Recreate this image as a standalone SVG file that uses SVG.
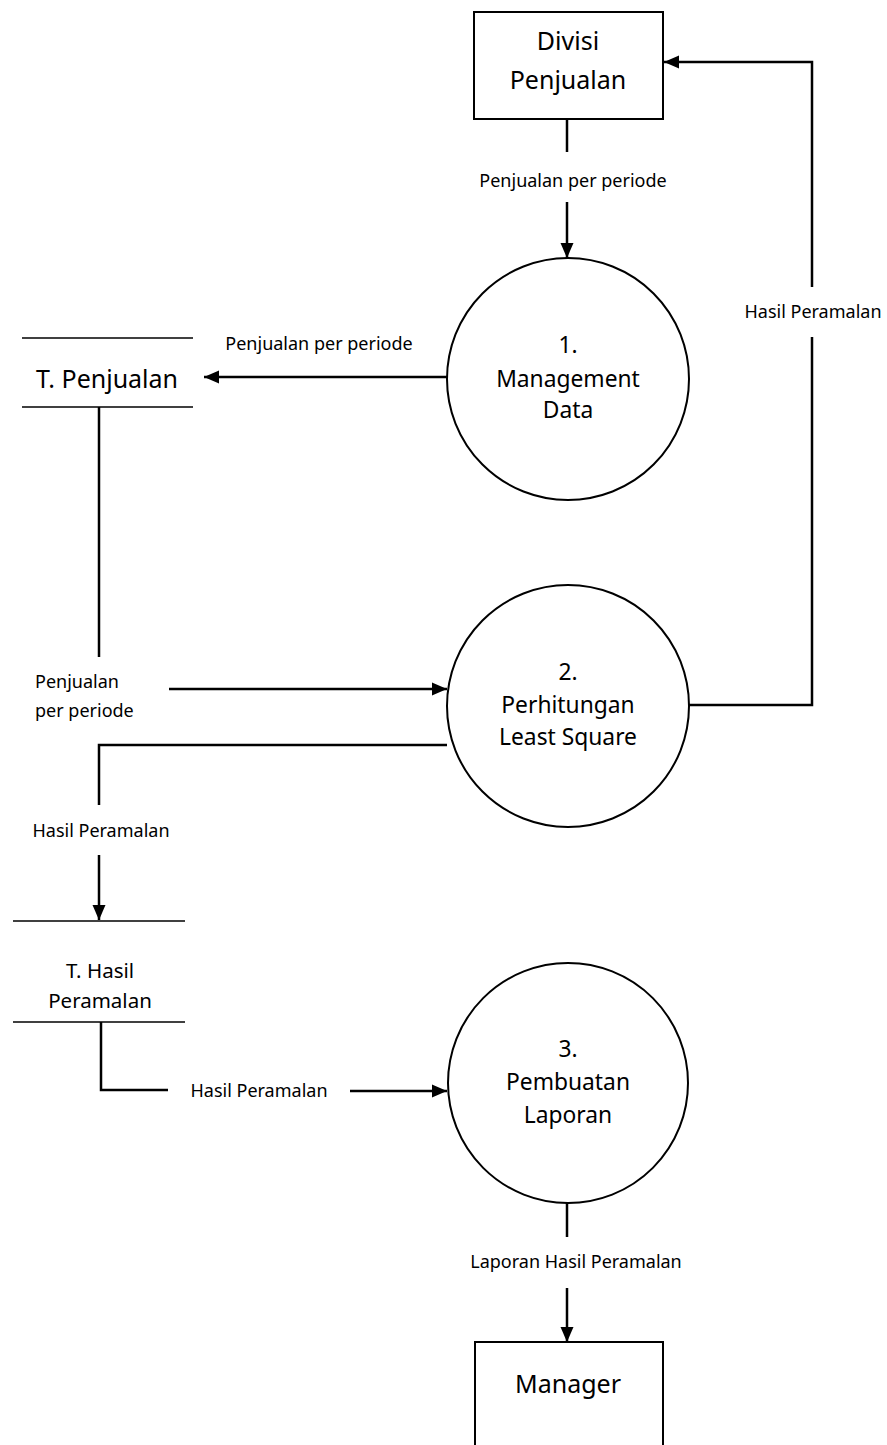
<svg xmlns="http://www.w3.org/2000/svg" width="887" height="1445" viewBox="0 0 887 1445">
<defs>
<style>
.node{fill:#fff;stroke:#000;stroke-width:2}
.store{stroke:#000;stroke-width:1.5;fill:none}
.flow{stroke:#000;stroke-width:2.5;fill:none}
.big{font-family:"Noto Sans","Open Sans",sans-serif;font-size:25px;fill:#000;text-anchor:middle}
.proc{font-family:"Noto Sans","Open Sans",sans-serif;font-size:22.8px;fill:#000;text-anchor:middle}
.st{font-family:"Noto Sans","Open Sans",sans-serif;font-size:20.5px;fill:#000;text-anchor:middle}
.lbl{font-family:"Noto Sans","Open Sans",sans-serif;font-size:18px;fill:#000;text-anchor:middle}
</style>
<marker id="arr" markerUnits="userSpaceOnUse" markerWidth="16" markerHeight="16" viewBox="0 0 16 16" refX="15" refY="8" orient="auto">
<path d="M0,1.5 L15,8 L0,14.5 Z" fill="#000"/>
</marker>
</defs>
<rect width="887" height="1445" fill="#fff"/>

<g id="connectors">
<!-- Divisi -> 1 -->
<line class="flow" x1="567" y1="119" x2="567" y2="152"/>
<line class="flow" x1="567" y1="202" x2="567" y2="258" marker-end="url(#arr)"/>
<text class="lbl" x="573" y="187">Penjualan per periode</text>
<!-- 1 -> T. Penjualan -->
<line class="flow" x1="447" y1="377" x2="204" y2="377" marker-end="url(#arr)"/>
<text class="lbl" x="319" y="350">Penjualan per periode</text>
<!-- T. Penjualan -> 2 -->
<line class="flow" x1="99" y1="407" x2="99" y2="657"/>
<line class="flow" x1="169" y1="689" x2="447" y2="689" marker-end="url(#arr)"/>
<text class="lbl" x="35" y="688" style="text-anchor:start">Penjualan</text>
<text class="lbl" x="35" y="717" style="text-anchor:start">per periode</text>
<!-- 2 -> Divisi -->
<polyline class="flow" points="689,705 812,705 812,337"/>
<polyline class="flow" points="812,287 812,62 664,62" marker-end="url(#arr)"/>
<text class="lbl" x="813" y="318">Hasil Peramalan</text>
<!-- 2 -> T. Hasil -->
<polyline class="flow" points="447,745 99,745 99,805"/>
<line class="flow" x1="99" y1="855" x2="99" y2="920" marker-end="url(#arr)"/>
<text class="lbl" x="101" y="837">Hasil Peramalan</text>
<!-- T. Hasil -> 3 -->
<polyline class="flow" points="101,1022 101,1090 168,1090"/>
<line class="flow" x1="350" y1="1091" x2="447" y2="1091" marker-end="url(#arr)"/>
<text class="lbl" x="259" y="1097">Hasil Peramalan</text>
<!-- 3 -> Manager -->
<line class="flow" x1="567" y1="1203" x2="567" y2="1237"/>
<line class="flow" x1="567" y1="1288" x2="567" y2="1342" marker-end="url(#arr)"/>
<text class="lbl" x="576" y="1268">Laporan Hasil Peramalan</text>
</g>

<g id="divisi-penjualan">
<rect class="node" x="474" y="12" width="189" height="107"/>
<text class="big" x="568" y="50">Divisi</text>
<text class="big" x="568" y="89">Penjualan</text>
</g>

<g id="proc-1">
<circle class="node" cx="568" cy="379" r="121"/>
<text class="proc" x="568" y="353">1.</text>
<text class="proc" x="568" y="387">Management</text>
<text class="proc" x="568" y="418">Data</text>
</g>

<g id="store-penjualan">
<line class="store" x1="22" y1="338" x2="193" y2="338"/>
<line class="store" x1="22" y1="407" x2="193" y2="407"/>
<text class="big" x="107" y="388">T. Penjualan</text>
</g>

<g id="proc-2">
<circle class="node" cx="568" cy="706" r="121"/>
<text class="proc" x="568" y="680">2.</text>
<text class="proc" x="568" y="713">Perhitungan</text>
<text class="proc" x="568" y="745">Least Square</text>
</g>

<g id="store-hasil">
<line class="store" x1="13" y1="921" x2="185" y2="921"/>
<line class="store" x1="13" y1="1022" x2="185" y2="1022"/>
<text class="st" x="100" y="978">T. Hasil</text>
<text class="st" x="100" y="1008">Peramalan</text>
</g>

<g id="proc-3">
<circle class="node" cx="568" cy="1083" r="120"/>
<text class="proc" x="568" y="1057">3.</text>
<text class="proc" x="568" y="1090">Pembuatan</text>
<text class="proc" x="568" y="1123">Laporan</text>
</g>

<g id="manager">
<rect class="node" x="475" y="1342" width="188" height="120"/>
<text class="big" x="568" y="1393">Manager</text>
</g>
</svg>
